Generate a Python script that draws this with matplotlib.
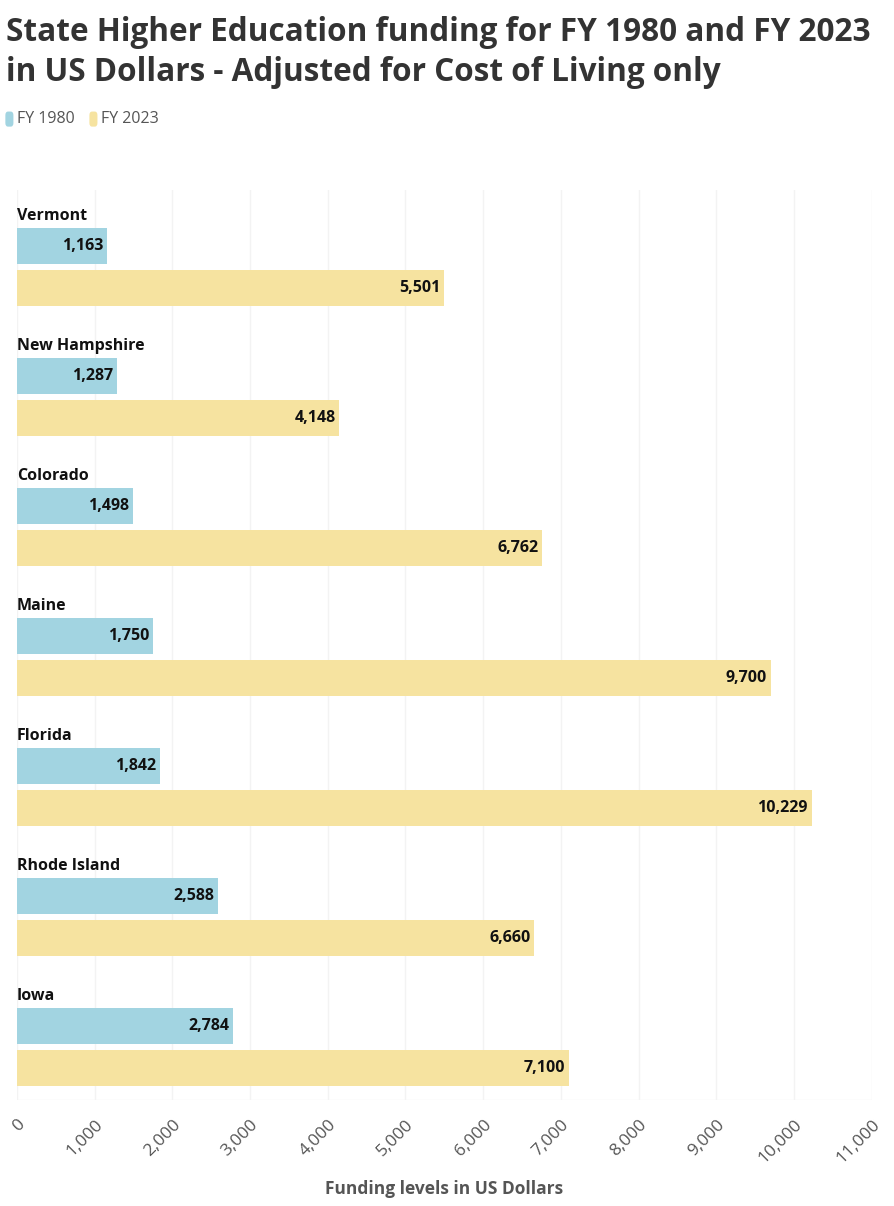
import matplotlib.pyplot as plt
from matplotlib.patches import FancyBboxPatch

states = ['Vermont', 'New Hampshire', 'Colorado', 'Maine', 'Florida', 'Rhode Island', 'Iowa']
fy1980 = [1163, 1287, 1498, 1750, 1842, 2588, 2784]
fy2023 = [5501, 4148, 6762, 9700, 10229, 6660, 7100]
xticks = [0, 1000, 2000, 3000, 4000, 5000, 6000, 7000, 8000, 9000, 10000, 11000]

blue = '#A2D4E1'
yellow = '#F6E3A0'

plt.rcParams['font.family'] = ['Open Sans', 'DejaVu Sans']

fig = plt.figure(figsize=(8.94, 12.06), dpi=100)
ax = fig.add_axes([0.019, 0.0879, 0.956, 0.7546])

bh = 0.277
for i, st in enumerate(states):
    ax.text(0, i + 0.2, st, ha='left', va='center', fontsize=11.5, fontweight='bold', color='#111111')
    ax.barh(i + 0.43, fy1980[i], height=bh, color=blue)
    ax.barh(i + 0.754, fy2023[i], height=bh, color=yellow)
    ax.text(fy1980[i] - 50, i + 0.43, f'{fy1980[i]:,}', ha='right', va='center',
            fontsize=11.5, fontweight='bold', color='#111111')
    ax.text(fy2023[i] - 50, i + 0.754, f'{fy2023[i]:,}', ha='right', va='center',
            fontsize=11.5, fontweight='bold', color='#111111')

ax.set_ylim(len(states), 0)
ax.set_xlim(0, 11000)
ax.set_xticks(xticks)
ax.set_xticklabels([f'{v:,}' for v in xticks], rotation=45, ha='right', rotation_mode='anchor',
                   fontsize=12.5, color='#555555')
ax.set_yticks([])
ax.tick_params(axis='x', length=0, pad=12)
ax.grid(axis='x', color='#F3F3F3', linewidth=1)
ax.set_axisbelow(True)
for s in ax.spines.values():
    s.set_visible(False)
ax.axhline(len(states), color='#F3F3F3', linewidth=1)
ax.set_xlabel('Funding levels in US Dollars', fontsize=12.5, fontweight='bold', color='#555555', labelpad=10)

fig.text(0.007, 0.987, 'State Higher Education funding for FY 1980 and FY 2023\nin US Dollars - Adjusted for Cost of Living only',
         ha='left', va='top', fontsize=22.7, fontweight='bold', color='#333333', linespacing=1.3)

# legend
for x0, col, lab in [(0.006, blue, 'FY 1980'), (0.100, yellow, 'FY 2023')]:
    fig.patches.append(FancyBboxPatch((x0, 0.895), 0.009, 0.0125, boxstyle='round,pad=0,rounding_size=0.003',
                                      transform=fig.transFigure, facecolor=col, edgecolor='none'))
    fig.text(x0 + 0.013, 0.901, lab, ha='left', va='center', fontsize=11.5, color='#555555')

fig.savefig('out.png', dpi=100)
